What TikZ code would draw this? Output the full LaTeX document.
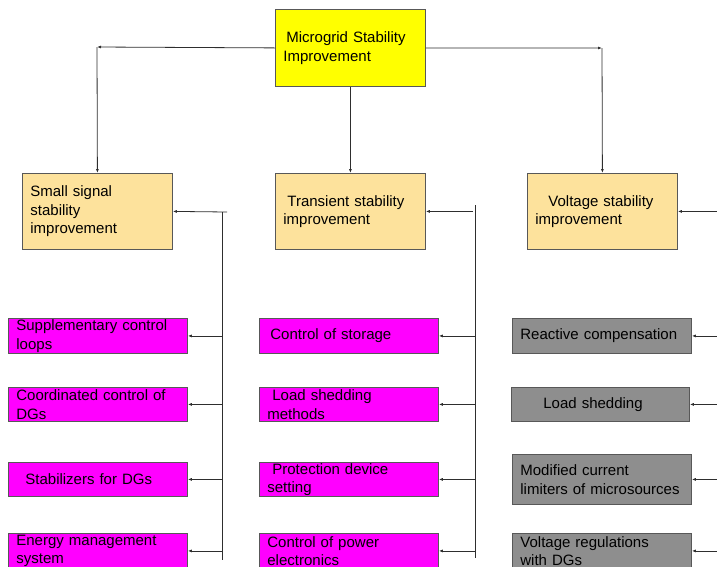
\documentclass[tikz,border=0pt]{standalone}
\usepackage{fontspec}
\setmainfont{Liberation Sans}
\usepackage{tikz}
\usetikzlibrary{positioning, arrows.meta}
\definecolor{topyellow}{HTML}{FFFF00}
\definecolor{mainorange}{HTML}{FDE29C}
\definecolor{methodmag}{HTML}{FF00FF}
\definecolor{methodgray}{HTML}{8E8E8E}
\definecolor{linegray}{HTML}{2E2E2E}
\tikzset{
  boxbase/.style={draw=linegray!80, line width=0.8pt, anchor=north west, align=left,
    inner xsep=8pt, inner ysep=0pt, font=\fontsize{15pt}{18.5pt}\selectfont},
  headbox/.style={boxbase, fill=mainorange, text width=134pt, minimum height=76pt},
  magbox/.style={boxbase, fill=methodmag, text width=163pt, minimum height=34pt},
  graybox/.style={boxbase, fill=methodgray, text width=163pt, minimum height=34pt},
  conn/.style={draw=linegray, line width=0.8pt, -{Latex[length=4pt,width=3pt]}},
  rail/.style={draw=linegray, line width=0.8pt}
}
\begin{document}
\begin{tikzpicture}[x=1pt, y=-1pt]
        \useasboundingbox (0,0) rectangle (717,566);
        % top box
        \node[headbox, fill=topyellow, minimum height=77pt] (top) at (275,9)
             {\hspace*{3pt}Microgrid Stability\\Improvement};
        % stability types
        \node[headbox] (ss) at (22,173) {Small signal\\stability\\improvement};
        \node[headbox] (ts) at (275,173) {\hspace*{4pt}Transient stability\\improvement};
        \node[headbox] (vs) at (527,173) {\hspace*{13pt}Voltage stability\\improvement};
        % small signal methods
        \node[magbox, minimum height=35pt] (ssa) at (8,318) {Supplementary control\\loops};
        \node[magbox] (ssb) at (8,387) {Coordinated control of\\DGs};
        \node[magbox] (ssc) at (8,462) {\hspace*{9pt}Stabilizers for DGs};
        \node[magbox, minimum height=35pt] (ssd) at (8,533) {Energy management\\system};
        % transient methods
        \node[magbox, minimum height=35pt] (tsa) at (259,318) {\hspace*{3pt}Control of storage};
        \node[magbox] (tsb) at (259,387) {\hspace*{5pt}Load shedding\\methods};
        \node[magbox] (tsc) at (259,462) {\hspace*{5pt}Protection device\\setting};
        \node[magbox, minimum height=35pt] (tsd) at (259,533) {Control of power\\electronics};
        % voltage methods
        \node[graybox, minimum height=35pt] (vsa) at (512,318) {Reactive compensation};
        \node[graybox, text width=162pt] (vsb) at (511,387) {\hspace*{24pt}Load shedding};
        \node[graybox, minimum height=50pt] (vsc) at (512,454) {Modified current\\limiters of microsources};
        \node[graybox, minimum height=35pt] (vsd) at (512,533) {Voltage regulations\\with DGs};
        % branch points
        \coordinate (lcorner) at (97,47);
        \coordinate (rcorner) at (602,48);
        \coordinate (fbAtop) at (222,212);
        \coordinate (fbAbot) at (222,560);
        \coordinate (fbBtop) at (475,205);
        \coordinate (fbBbot) at (475,558);
        \coordinate (rim) at (717,0);
        % top level arrows
        \draw[conn] (top.west) -- (lcorner);
        \draw[conn] (lcorner) -- (ss.north);
        \draw[conn] (top.east) -- (rcorner);
        \draw[conn] (rcorner) -- (vs.north);
        \draw[conn] (top.south) -- (ts.north);
        % feedback rails
        \draw[rail] (fbAtop) -- (fbAbot);
        \draw[rail] (fbBtop) -- (fbBbot);
        \draw[conn] ([xshift=5pt]fbAtop) -- (ss.east);
        \draw[conn] ([xshift=-2pt]fbBtop |- ts.east) -- (ts.east);
        \draw[conn] (rim |- vs.east) -- (vs.east);
        % method arrows
        \foreach \r in {a,b,c,d}
        {
        \draw[conn] (fbAtop |- ss\r.east) -- (ss\r.east);
        \draw[conn] (fbBtop |- ts\r.east) -- (ts\r.east);
        \draw[conn] (rim |- vs\r.east) -- (vs\r.east);
        }
\end{tikzpicture}
\end{document}
